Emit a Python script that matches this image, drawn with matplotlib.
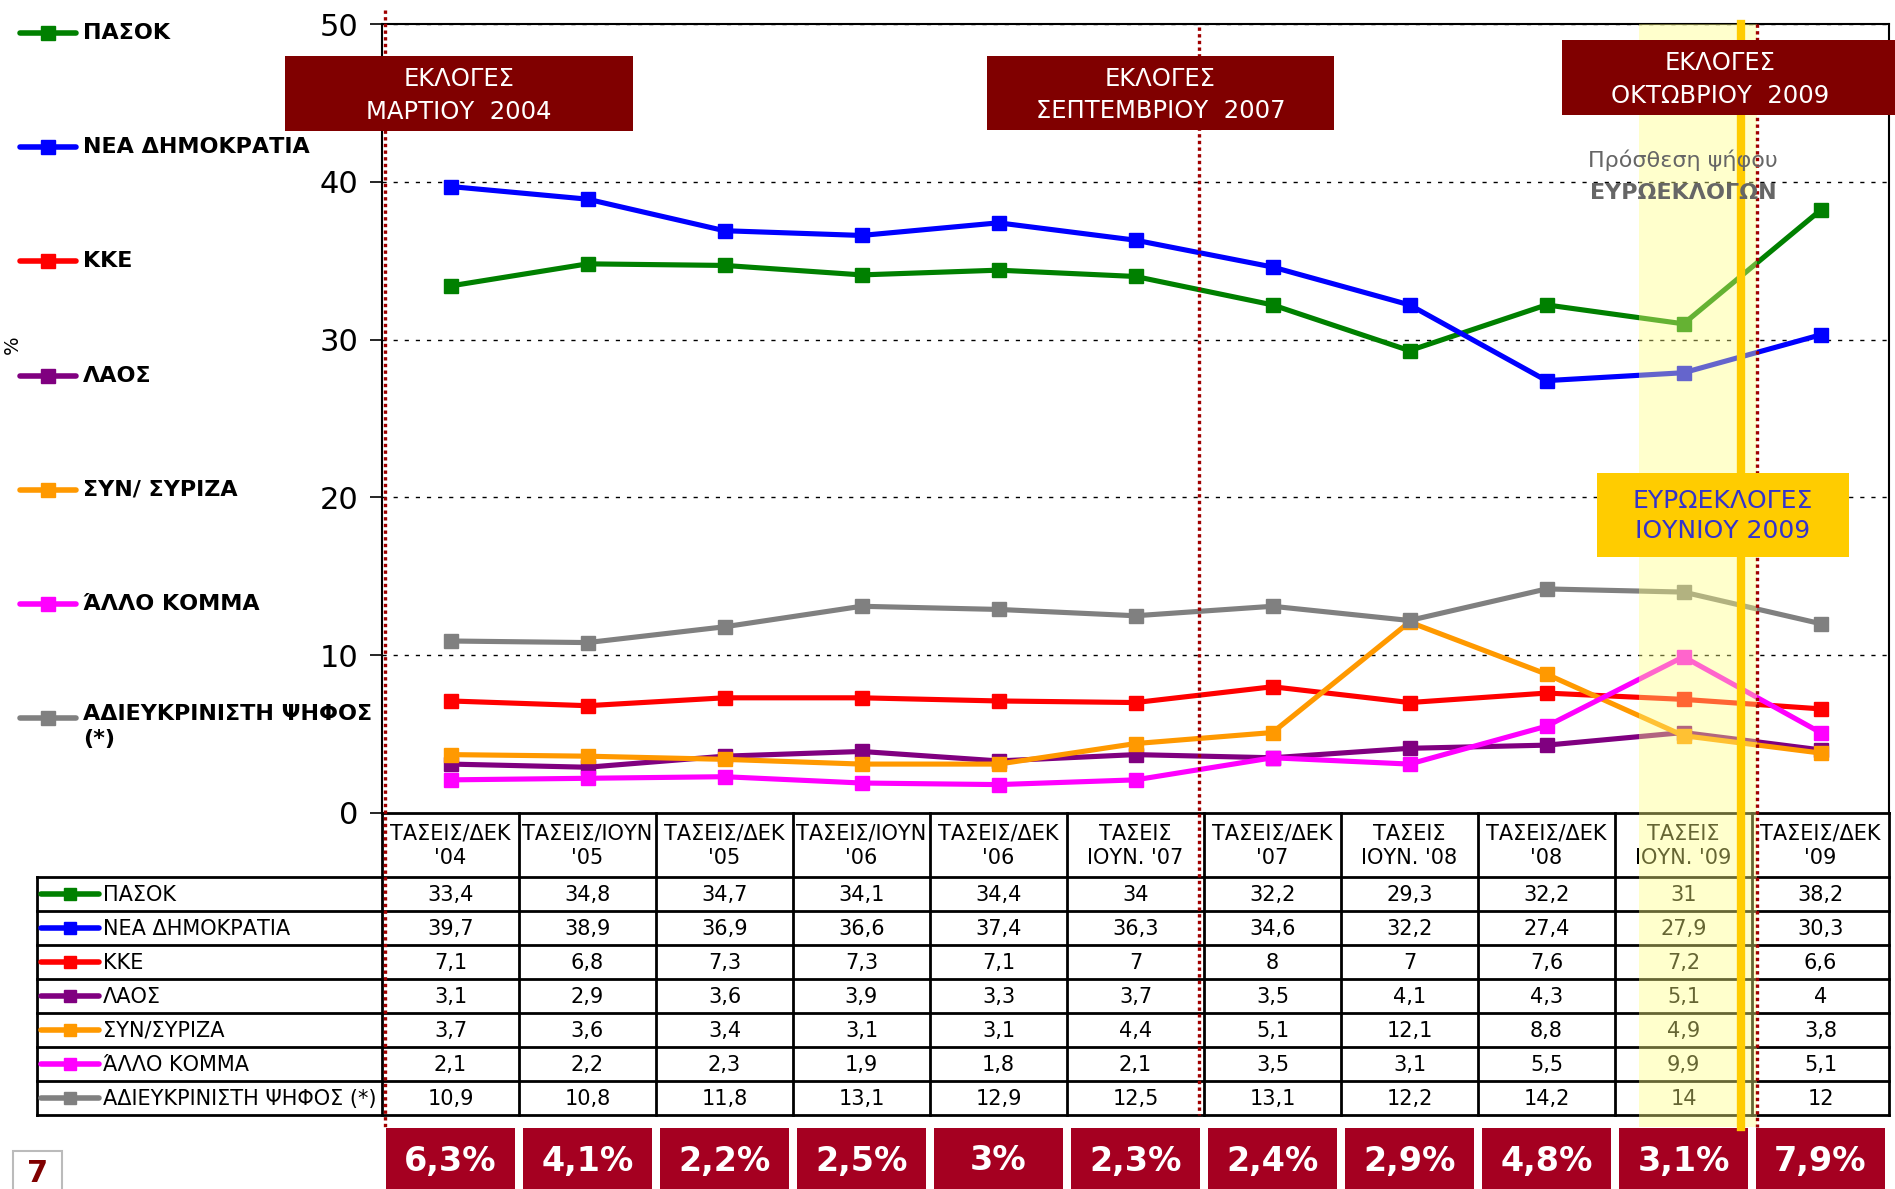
import matplotlib.pyplot as plt
import matplotlib.transforms as mtransforms
from matplotlib.patches import Rectangle

plt.rcParams['font.family'] = ['DejaVu Sans']

categories = ["ΤΑΣΕΙΣ/ΔΕΚ\n'04", "ΤΑΣΕΙΣ/ΙΟΥΝ\n'05", "ΤΑΣΕΙΣ/ΔΕΚ\n'05",
              "ΤΑΣΕΙΣ/ΙΟΥΝ\n'06", "ΤΑΣΕΙΣ/ΔΕΚ\n'06", "ΤΑΣΕΙΣ\nΙΟΥΝ. '07",
              "ΤΑΣΕΙΣ/ΔΕΚ\n'07", "ΤΑΣΕΙΣ\nΙΟΥΝ. '08", "ΤΑΣΕΙΣ/ΔΕΚ\n'08",
              "ΤΑΣΕΙΣ\nΙΟΥΝ. '09", "ΤΑΣΕΙΣ/ΔΕΚ\n'09"]

parties = ['ΠΑΣΟΚ', 'ΝΕΑ ΔΗΜΟΚΡΑΤΙΑ', 'ΚΚΕ', 'ΛΑΟΣ', 'ΣΥΝ/ΣΥΡΙΖΑ',
           'ΆΛΛΟ ΚΟΜΜΑ', 'ΑΔΙΕΥΚΡΙΝΙΣΤΗ ΨΗΦΟΣ (*)']
legend_labels = ['ΠΑΣΟΚ', 'ΝΕΑ ΔΗΜΟΚΡΑΤΙΑ', 'ΚΚΕ', 'ΛΑΟΣ', 'ΣΥΝ/ ΣΥΡΙΖΑ',
                 'ΆΛΛΟ ΚΟΜΜΑ', 'ΑΔΙΕΥΚΡΙΝΙΣΤΗ ΨΗΦΟΣ\n(*)']
colors = ['#008000', '#0000FF', '#FF0000', '#800080', '#FF9900', '#FF00FF', '#808080']

pasok = [33.4, 34.8, 34.7, 34.1, 34.4, 34, 32.2, 29.3, 32.2, 31, 38.2]
nd = [39.7, 38.9, 36.9, 36.6, 37.4, 36.3, 34.6, 32.2, 27.4, 27.9, 30.3]
kke = [7.1, 6.8, 7.3, 7.3, 7.1, 7, 8, 7, 7.6, 7.2, 6.6]
laos = [3.1, 2.9, 3.6, 3.9, 3.3, 3.7, 3.5, 4.1, 4.3, 5.1, 4]
syn = [3.7, 3.6, 3.4, 3.1, 3.1, 4.4, 5.1, 12.1, 8.8, 4.9, 3.8]
allo = [2.1, 2.2, 2.3, 1.9, 1.8, 2.1, 3.5, 3.1, 5.5, 9.9, 5.1]
adieuk = [10.9, 10.8, 11.8, 13.1, 12.9, 12.5, 13.1, 12.2, 14.2, 14, 12]
series = [pasok, nd, kke, laos, syn, allo, adieuk]

bottom_row = ['6,3%', '4,1%', '2,2%', '2,5%', '3%', '2,3%', '2,4%', '2,9%', '4,8%', '3,1%', '7,9%']

elections = [('ΕΚΛΟΓΕΣ\nΜΑΡΤΙΟΥ  2004', (285, 56, 348, 75)),
             ('ΕΚΛΟΓΕΣ\nΣΕΠΤΕΜΒΡΙΟΥ  2007', (987, 56, 347, 74)),
             ('ΕΚΛΟΓΕΣ\nΟΚΤΩΒΡΙΟΥ  2009', (1562, 40, 340, 75))]


def fmt(v):
    return f'{v:g}'.replace('.', ',')


W, H = 1895, 1189
fig = plt.figure(figsize=(W / 100, H / 100), dpi=100)

# main line chart
ax = fig.add_axes([382 / W, 1 - 813 / H, 1507 / W, 789 / H])
ax.set_xlim(-0.5, 10.5)
ax.set_ylim(0, 50)
ax.set_xticks([])
ax.set_yticks(range(0, 51, 10))
ax.tick_params(axis='y', direction='out', length=9, width=1.2, labelsize=22, pad=8)
for y in range(10, 51, 10):
    ax.axhline(y, color='black', lw=1, ls=(0, (3, 5)), zorder=1)
for s in ax.spines.values():
    s.set_linewidth(1.5)
ax.spines['bottom'].set_linewidth(2)

x = list(range(len(categories)))
for vals, c in zip(series, colors):
    ax.plot(x, vals, color=c, lw=3.7, marker='s', ms=10, zorder=3)

# overlay in pixel rows, x shared with the category scale where needed
ov = fig.add_axes([0, 0, 1, 1])
ov.set_xlim(0, W)
ov.set_ylim(H, 0)
ov.axis('off')
ov.patch.set_visible(False)
ov.set_zorder(ax.get_zorder() + 1)
bt = mtransforms.blended_transform_factory(ax.transData, ov.transData)

# left legend
for i, (lab, c) in enumerate(zip(legend_labels, colors)):
    y = 33 + i * 114.2
    ov.plot([20, 76], [y, y], color=c, lw=4, solid_capstyle='round')
    ov.plot([48], [y], color=c, marker='s', ms=10)
    if '\n' in lab:
        ov.text(83, y - 14, lab, fontsize=16, fontweight='bold', va='top', linespacing=1.3)
    else:
        ov.text(83, y, lab, fontsize=16, fontweight='bold', va='center')

ov.text(12, 345, '%', rotation=90, fontsize=14, ha='center', va='center')

# data table
label_left = -3.02
top, hdr, rh = 813, 877, 34
nrows = len(series)
bottom = hdr + rh * nrows
for k in range(nrows + 1):
    ov.plot([label_left, 10.5], [hdr + k * rh] * 2, color='black', lw=2, transform=bt)
for b in [i - 0.5 for i in range(len(categories) + 1)]:
    ov.plot([b, b], [top, bottom], color='black', lw=2, transform=bt)
ov.plot([label_left, label_left], [hdr, bottom], color='black', lw=2, transform=bt)

for i, cat in enumerate(categories):
    ov.text(i, 846, cat, transform=bt, ha='center', va='center', fontsize=15, linespacing=1.3)

for r, (name, vals, c) in enumerate(zip(parties, series, colors)):
    yc = hdr + rh * r + rh / 2
    ov.plot([41, 99], [yc, yc], color=c, lw=4, solid_capstyle='round')
    ov.plot([70], [yc], color=c, marker='s', ms=8)
    ov.text(103, yc + 1, name, fontsize=15, va='center')
    for i, v in enumerate(vals):
        ov.text(i, yc + 1, fmt(v), transform=bt, ha='center', va='center', fontsize=15)

# bottom boxes
for i, lab in enumerate(bottom_row):
    ov.add_patch(Rectangle((i - 0.47, 1128), 0.94, 62, transform=bt,
                           facecolor='#A50021', edgecolor='none', zorder=4))
    ov.text(i, 1161, lab, transform=bt, ha='center', va='center', fontsize=24,
            fontweight='bold', color='white', zorder=5)

# euro-election band and marker lines
ov.add_patch(Rectangle((8.675, 24), 0.865, 1103, transform=bt, facecolor=(1, 1, 0.5),
                       alpha=0.4, edgecolor='none', zorder=6))
ov.plot([9.42, 9.42], [24, 1127], transform=bt, color='#FFCC00', lw=6, zorder=7)
for xd, y0, y1 in [(-0.48, 10, 1128), (5.46, 27, 1115), (9.54, 24, 1127)]:
    ov.plot([xd, xd], [y0, y1], transform=bt, color='#A00000', lw=2.4,
            ls=(0, (1, 1)), zorder=8)

# election boxes
for txt, (bx, by, bw, bh) in elections:
    ov.add_patch(Rectangle((bx, by), bw, bh, facecolor='#800000', edgecolor='none', zorder=9))
    ov.text(bx + bw / 2 - (12 if bx > 1500 else 0), by + bh / 2 + 2, txt, ha='center', va='center',
            fontsize=17.5, color='white', linespacing=1.45, zorder=10)

ov.add_patch(Rectangle((1597, 473), 252, 84, facecolor='#FFCC00', edgecolor='none', zorder=9))
ov.text(1723, 516, 'ΕΥΡΩΕΚΛΟΓΕΣ\nΙΟΥΝΙΟΥ 2009', ha='center', va='center', fontsize=18,
        color='#3333CC', linespacing=1.3, zorder=10)

ov.text(1683, 160, 'Πρόσθεση ψήφου', ha='center', va='center', fontsize=16, color='#666666', zorder=9)
ov.text(1683, 193, 'ΕΥΡΩΕΚΛΟΓΩΝ', ha='center', va='center', fontsize=16, fontweight='bold',
        color='#666666', zorder=9)

# page number
ov.add_patch(Rectangle((13, 1151), 49, 40, facecolor='white', edgecolor='#BBBBBB', lw=1.5))
ov.text(38, 1174, '7', ha='center', va='center', fontsize=22, fontweight='bold', color='#800000')

fig.savefig('out.png', dpi=100)
